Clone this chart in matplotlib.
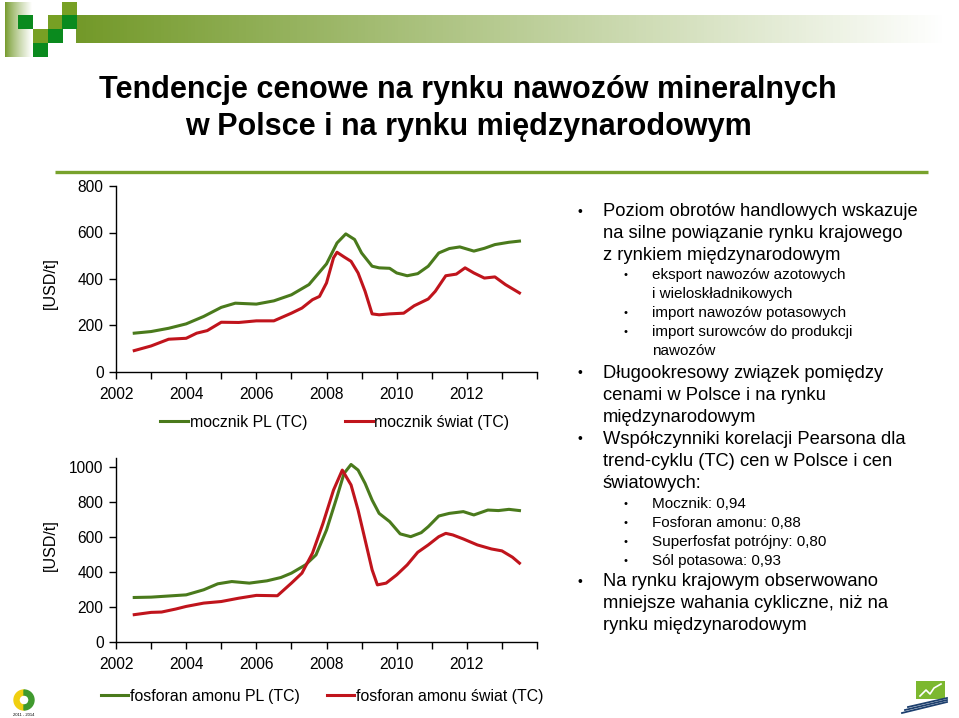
import numpy as np
import matplotlib
matplotlib.use("Agg")
import matplotlib.pyplot as plt
from matplotlib.patches import Rectangle, Wedge

plt.rcParams["font.family"] = ["Liberation Sans", "DejaVu Sans"]

# ---- data ----
mocznik_pl_x = [2002.52, 2003, 2003.5, 2004, 2004.5, 2005, 2005.4, 2006, 2006.5, 2007, 2007.5,
                2008, 2008.3, 2008.55, 2008.8, 2009, 2009.3, 2009.5, 2009.8, 2010, 2010.3,
                2010.6, 2010.9, 2011.2, 2011.5, 2011.8, 2012.2, 2012.5, 2012.8, 2013.2, 2013.5]
mocznik_pl = [167, 174, 188, 207, 239, 278, 296, 292, 306, 332, 376,
              465, 555, 594, 570, 512, 455, 448, 446, 426, 414,
              423, 455, 512, 531, 538, 520, 532, 548, 558, 563]

mocznik_sw_x = [2002.52, 2003, 2003.5, 2004, 2004.3, 2004.6, 2005, 2005.5, 2006, 2006.5, 2007,
                2007.3, 2007.6, 2007.8, 2008, 2008.2, 2008.3, 2008.5, 2008.7, 2008.9, 2009.1,
                2009.3, 2009.5, 2009.8, 2010.2, 2010.5, 2010.9, 2011.1, 2011.4, 2011.7,
                2011.95, 2012.2, 2012.5, 2012.8, 2013.1, 2013.5]
mocznik_sw = [92, 112, 141, 145, 167, 178, 214, 213, 220, 220, 253,
              275, 311, 325, 383, 491, 515, 495, 476, 426, 347,
              250, 246, 250, 253, 285, 314, 347, 414, 421,
              448, 426, 404, 409, 376, 340]

fosforan_pl_x = [2002.52, 2003, 2004, 2004.5, 2004.9, 2005.3, 2005.8, 2006.3, 2006.7, 2007,
                 2007.4, 2007.7, 2008, 2008.3, 2008.5, 2008.7, 2008.9, 2009.1, 2009.3, 2009.5,
                 2009.8, 2010.1, 2010.4, 2010.7, 2010.9, 2011.2, 2011.5, 2011.9, 2012.2,
                 2012.6, 2012.9, 2013.2, 2013.5]
fosforan_pl = [254, 256, 269, 298, 332, 345, 336, 349, 368, 393,
               440, 497, 639, 829, 962, 1013, 981, 905, 810, 734,
               687, 617, 601, 624, 658, 719, 734, 744, 725,
               753, 750, 757, 750]

fosforan_sw_x = [2002.52, 2003, 2003.3, 2003.7, 2004, 2004.5, 2005, 2005.5, 2006, 2006.6, 2007,
                 2007.3, 2007.6, 2007.9, 2008.2, 2008.45, 2008.7, 2008.9, 2009.1, 2009.3,
                 2009.45, 2009.7, 2010, 2010.3, 2010.6, 2010.9, 2011.2, 2011.4, 2011.6,
                 2011.9, 2012.3, 2012.7, 2013, 2013.3, 2013.5]
fosforan_sw = [156, 169, 171, 188, 203, 222, 231, 250, 266, 264, 336,
               393, 507, 677, 867, 981, 896, 753, 583, 412,
               326, 336, 383, 440, 512, 554, 601, 620, 611,
               588, 554, 531, 520, 484, 450]

years = list(range(2002, 2015))
year_labels = [str(y) if (y % 2 == 0 and y < 2014) else "" for y in years]

title_lines = ["Tendencje cenowe na rynku nawozów mineralnych",
               "w Polsce i na rynku międzynarodowym"]

# (level, text, y-pixel); 0 = bullet, -1 = continuation, 1 = sub-bullet, -2 = sub continuation
bullets = [
    (0, "Poziom obrotów handlowych wskazuje", 212),
    (-1, "na silne powiązanie rynku krajowego", 234),
    (-1, "z rynkiem międzynarodowym", 256),
    (1, "eksport nawozów azotowych", 275),
    (-2, "i wieloskładnikowych", 294),
    (1, "import nawozów potasowych", 313),
    (1, "import surowców do produkcji", 332),
    (-2, "nawozów", 351),
    (0, "Długookresowy związek pomiędzy", 373),
    (-1, "cenami w Polsce i na rynku", 395),
    (-1, "międzynarodowym", 417),
    (0, "Współczynniki korelacji Pearsona dla", 439),
    (-1, "trend-cyklu (TC) cen w Polsce i cen", 461),
    (-1, "światowych:", 483),
    (1, "Mocznik: 0,94", 504),
    (1, "Fosforan amonu: 0,88", 523),
    (1, "Superfosfat potrójny: 0,80", 542),
    (1, "Sól potasowa: 0,93", 561),
    (0, "Na rynku krajowym obserwowano", 582),
    (-1, "mniejsze wahania cykliczne, niż na", 604),
    (-1, "rynku międzynarodowym", 626),
]

GREEN = "#4a7a1c"
RED = "#c0141c"
W, H = 959, 718

fig = plt.figure(figsize=(W / 100, H / 100), dpi=100)

# background layer in pixel coordinates
bg = fig.add_axes([0, 0, 1, 1])
bg.set_xlim(0, W)
bg.set_ylim(H, 0)
bg.axis("off")

# header gradient bar and side strip
grad = np.linspace(0, 1, 256)
olive = np.array([0.45, 0.60, 0.16])
bar = olive[None, :] * (1 - grad[:, None]) + grad[:, None]
bg.imshow(bar[None, :, :], extent=[76, 945, 43, 15], aspect="auto")
strip = olive[None, :] * (1 - grad[:, None] ** 0.8) + grad[:, None] ** 0.8
bg.imshow(strip[None, :, :], extent=[5, 32, 57, 2], aspect="auto")

dark_sq = "#0a8a1e"
olive_sq = "#77a024"
squares = [(18, 15, dark_sq), (48, 15, olive_sq), (62, 2, olive_sq), (62, 15, dark_sq),
           (33, 29, olive_sq), (48, 29, dark_sq), (33, 43, dark_sq)]
for sx, sy, c in squares:
    bg.add_patch(Rectangle((sx, sy), 14.5, 14, color=c, lw=0))

# title
bg.text(468, 90, title_lines[0], ha="center", va="center", fontsize=22, fontweight="bold")
bg.text(468, 127, title_lines[1], ha="center", va="center", fontsize=22, fontweight="bold")
bg.plot([55, 928], [172, 172], color="#78a22c", lw=2.4, solid_capstyle="butt")

# bullet text
for level, txt, y in bullets:
    if level == 0:
        bg.text(577, y, "•", ha="left", va="center", fontsize=10)
    if level in (0, -1):
        bg.text(603, y, txt, ha="left", va="center", fontsize=13.2)
    else:
        if level == 1:
            bg.text(624, y, "•", ha="left", va="center", fontsize=8)
        bg.text(652, y, txt, ha="left", va="center", fontsize=11)

# y-axis labels
bg.text(50, 283, "[USD/t]", rotation=90, ha="center", va="center", fontsize=11.5)
bg.text(50, 545, "[USD/t]", rotation=90, ha="center", va="center", fontsize=11.5)

# bottom-left logo (ring)
bg.add_patch(Wedge((24, 700), 10, 90, 270, width=5, color="#f0cf10"))
bg.add_patch(Wedge((24, 700), 10, -90, 90, width=5, color="#3f9a2e"))
bg.text(24, 715, "2011 - 2014", ha="center", va="center", fontsize=3)
# bottom-right logo
bg.add_patch(Rectangle((916, 681), 29, 18, color="#7cb82f", lw=0))
bg.plot([920, 926, 930, 934, 941], [696, 690, 694, 688, 684], color="white", lw=1.2)
for k in range(3):
    bg.plot([902 + 3 * k, 947], [713 - 3 * k, 702 - 2 * k], color="#1d3f6e", lw=1.3)


def style_axis(ax, ymax, yticks):
    ax.set_xlim(2002, 2014)
    ax.set_ylim(0, ymax)
    ax.set_xticks(years)
    ax.set_xticklabels(year_labels)
    ax.set_yticks(yticks)
    for s in ("top", "right"):
        ax.spines[s].set_visible(False)
    for s in ("left", "bottom"):
        ax.spines[s].set_linewidth(1.0)
    ax.tick_params(direction="out", length=5, width=1.0, labelsize=11.2)
    ax.tick_params(axis="x", pad=6)
    ax.tick_params(axis="y", pad=4)
    ax.patch.set_alpha(0)


# top chart: mocznik
ax1 = fig.add_axes([116 / W, 1 - 372 / H, 421 / W, 186 / H])
ax1.plot(mocznik_pl_x, mocznik_pl, color=GREEN, lw=2.2, label="mocznik PL (TC)")
ax1.plot(mocznik_sw_x, mocznik_sw, color=RED, lw=2.2, label="mocznik świat (TC)")
style_axis(ax1, 800, [0, 200, 400, 600, 800])
ax1.legend(loc="center", bbox_to_anchor=(335 / W, 1 - 422 / H), bbox_transform=fig.transFigure,
           ncol=2, frameon=False, fontsize=11.4, handlelength=1.75, handletextpad=0.1,
           columnspacing=2.4)

# bottom chart: fosforan amonu
ax2 = fig.add_axes([116 / W, 1 - 642 / H, 421 / W, 184 / H])
ax2.plot(fosforan_pl_x, fosforan_pl, color=GREEN, lw=2.2, label="fosforan amonu PL (TC)")
ax2.plot(fosforan_sw_x, fosforan_sw, color=RED, lw=2.2, label="fosforan amonu świat (TC)")
style_axis(ax2, 1050, [0, 200, 400, 600, 800, 1000])
ax2.legend(loc="center", bbox_to_anchor=(322 / W, 1 - 696 / H), bbox_transform=fig.transFigure,
           ncol=2, frameon=False, fontsize=11.4, handlelength=1.75, handletextpad=0.1,
           columnspacing=1.7)

fig.savefig("out.png", dpi=100)
